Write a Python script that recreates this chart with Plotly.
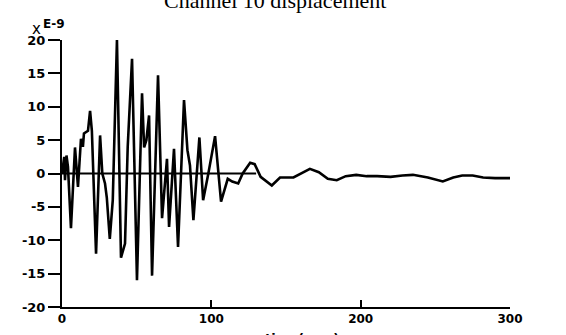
import plotly.graph_objects as go

# time (sec.) and displacement (x1e-9)
time_s = [0, 1.5, 2, 3, 4, 6, 8.7, 10.7, 12.7, 14, 14.7, 17.4, 18.8, 20, 22.8,
          25.5, 27, 28.8, 30, 32, 34, 35.5, 36.8, 39.5, 42.2, 44, 46.9, 50.2,
          53.6, 55, 56.5, 58.3, 60.3, 64.3, 67, 70.3, 71.7, 75, 77.7, 81.7,
          84, 85.7, 88, 92, 94.5, 98, 102.5, 106.5, 111, 114, 118, 121, 126,
          129, 133, 140.5, 146, 155, 160, 166, 172, 178, 184, 190, 197, 204,
          211, 220, 228, 235, 245, 255, 262, 268, 275, 282, 290, 300]
disp = [0, 2.5, -1, 2.7, 1, -8.2, 3.9, -2, 5.2, 4, 6, 6.4, 9.4, 6.4, -12,
        5.7, 0, -1.5, -3.6, -9.8, -4, 8, 20, -12.6, -10.5, 4, 17.2, -16,
        12, 3.9, 5, 8.7, -15.3, 14.7, -6.7, 2.2, -8, 3.7, -11, 11,
        3.5, 1.2, -7, 5.4, -4, 0, 5.6, -4.2, -0.8, -1.2, -1.5, 0, 1.6,
        1.4, -0.5, -1.8, -0.6, -0.6, 0, 0.7, 0.2, -0.8, -1.0, -0.4, -0.2, -0.4,
        -0.4, -0.5, -0.3, -0.2, -0.6, -1.2, -0.6, -0.3, -0.3, -0.6, -0.7, -0.7]

zero_x = [0, 130]
zero_y = [0, 0]

x_ticks = [0, 100, 200, 300]
x_labels = ["0", "100", "200", "300"]
y_ticks = [-20, -15, -10, -5, 0, 5, 10, 15, 20]
y_labels = ["-20", "-15", "-10", "-5", "0", "5", "10", "15", "20"]

tick_font = dict(family="DejaVu Sans", size=12, color="black", weight="bold")

fig = go.Figure()
fig.add_trace(go.Scatter(x=zero_x, y=zero_y, mode="lines",
                         line=dict(color="black", width=2), showlegend=False))
fig.add_trace(go.Scatter(x=time_s, y=disp, mode="lines",
                         line=dict(color="black", width=2.6), showlegend=False))

fig.update_layout(
    template="none",
    width=566, height=335,
    margin=dict(l=62, r=56, t=40, b=28, autoexpand=False),
    paper_bgcolor="white", plot_bgcolor="white",
    xaxis=dict(range=[0, 300], tickvals=x_ticks, ticktext=x_labels,
               automargin=False,
               showgrid=False, zeroline=False, showline=True,
               linecolor="black", linewidth=2, ticks="inside", ticklen=7,
               tickwidth=2, tickcolor="black", tickfont=tick_font),
    yaxis=dict(range=[-20, 20], tickvals=y_ticks, ticktext=y_labels,
               automargin=False,
               showgrid=False, zeroline=False, showline=True,
               linecolor="black", linewidth=2, ticks="outside", ticklen=12,
               tickwidth=2, tickcolor="black",
               tickfont=dict(family="DejaVu Sans", size=13, color="black",
                             weight="bold")),
    annotations=[
        dict(text="Channel 10 displacement", x=0.475, xref="paper",
             y=1, yref="paper", yanchor="bottom", yshift=25, showarrow=False,
             font=dict(family="Liberation Serif", size=22, color="black")),
        dict(text="E-9", x=0, xref="paper", xanchor="center", xshift=-8,
             y=1, yref="paper", yanchor="bottom", yshift=7, showarrow=False,
             font=tick_font),
        dict(text="x", x=0, xref="paper", xanchor="center", xshift=-26,
             y=1, yref="paper", yanchor="bottom", yshift=0, showarrow=False,
             font=dict(family="DejaVu Sans", size=15, color="black")),
        dict(text="time(sec.)", x=161, xref="x", y=0, yref="paper",
             yanchor="top", yshift=-22, showarrow=False,
             font=dict(family="DejaVu Sans", size=13, color="black", weight="bold")),
    ],
)

fig.write_html(
    "out.html",
    config={"displayModeBar": False},
    post_script="document.body.style.margin='0';document.body.style.overflow='hidden';",
)
